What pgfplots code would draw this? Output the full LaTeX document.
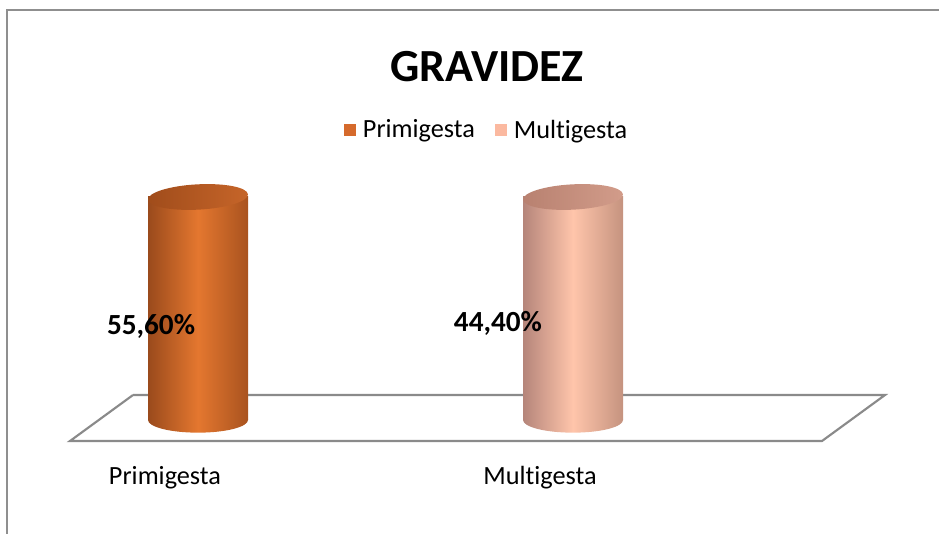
\documentclass[border=0pt]{standalone}
\usepackage{pgfplots}
\pgfplotsset{compat=1.18}
\usepackage{fontspec}
\setmainfont{Carlito}[Ligatures=NoCommon]
\usetikzlibrary{shapes.geometric}
\definecolor{orL}{HTML}{D56A2C}
\definecolor{orEdge}{HTML}{9A4A1C}
\definecolor{orMid}{HTML}{E4772F}
\definecolor{orEdgeR}{HTML}{A9531F}
\definecolor{orTopL}{HTML}{A04C1B}
\definecolor{orTopR}{HTML}{C66529}
\definecolor{pkL}{HTML}{FBB9A0}
\definecolor{pkEdge}{HTML}{B5857A}
\definecolor{pkMid}{HTML}{FFC5AB}
\definecolor{pkEdgeR}{HTML}{C5937F}
\definecolor{pkTopL}{HTML}{B88170}
\definecolor{pkTopR}{HTML}{D29C8A}
\definecolor{floorc}{HTML}{8A8A8A}
\definecolor{framec}{HTML}{8F8F8F}
\begin{document}
\begin{tikzpicture}
\begin{axis}[
  scale only axis, width=704.25pt, height=400.5pt,
  xmin=-0.528, xmax=1.976, ymin=-51.12, ymax=188.34,
  hide axis, clip=false,
  legend style={at={(rel axis cs:0.5186,0.7566)}, anchor=center, draw=none,
    font=\fontsize{19.7}{22}\selectfont, legend columns=2,
    /tikz/every even column/.append style={column sep=13pt}},
  legend image code/.code={\fill[#1, draw=none] (0pt,-4.5pt) rectangle (9pt,4.5pt); \path (12pt,0pt);},
]
\addlegendimage{fill=orL}
\addlegendentry{Primigesta}
\addlegendimage{fill=pkL}
\addlegendentry{Multigesta}
% floor
\addplot[draw=floorc, line width=1.6pt, forget plot] coordinates {(-0.1733,11.2) (1.832,11.2) (1.664,-9.42) (-0.3413,-9.42) (-0.1733,11.2)};
% bottom ellipses
\addplot[draw=none, mark=none, forget plot, nodes near coords={},
  every node near coord/.append style={ellipse, anchor=center, minimum width=75pt, minimum height=19pt, inner sep=0pt,
    left color=orEdge, right color=orEdgeR, middle color=orMid, draw=none}]
  coordinates {(0,0)};
\addplot[draw=none, mark=none, forget plot, nodes near coords={},
  every node near coord/.append style={ellipse, anchor=center, minimum width=75pt, minimum height=19pt, inner sep=0pt,
    left color=pkEdge, right color=pkEdgeR, middle color=pkMid, draw=none}]
  coordinates {(1,0)};
% bars
\addplot[ybar, bar width=75pt, bar shift=0pt, draw=none, forget plot,
  left color=orEdge, right color=orEdgeR, middle color=orMid,
  nodes near coords={},
  every node near coord/.append style={ellipse, anchor=center, minimum width=75pt, minimum height=19pt, inner sep=0pt,
    rotate=3, left color=orTopL, right color=orTopR, draw=none}]
  coordinates {(0,100)};
\addplot[ybar, bar width=75pt, bar shift=0pt, draw=none, forget plot,
  left color=pkEdge, right color=pkEdgeR, middle color=pkMid,
  nodes near coords={},
  every node near coord/.append style={ellipse, anchor=center, minimum width=75pt, minimum height=19pt, inner sep=0pt,
    rotate=3, left color=pkTopL, right color=pkTopR, draw=none}]
  coordinates {(1,100)};
% data labels
\addplot[draw=none, mark=none, forget plot, point meta=explicit symbolic, nodes near coords,
  every node near coord/.append style={anchor=center, font=\fontsize{21.9}{24}\selectfont\bfseries, text=black}]
  coordinates {(-0.1253,42.15) [55,60\%] (0.800,43.5) [44,40\%]};
% category labels
\addplot[draw=none, mark=none, forget plot, point meta=explicit symbolic, nodes near coords,
  every node near coord/.append style={anchor=center, font=\fontsize{19.7}{22}\selectfont, text=black}]
  coordinates {(-0.088,-26) [Primigesta] (0.912,-26) [Multigesta]};
\node[font=\fontsize{34.5}{38}\selectfont\bfseries] at (rel axis cs:0.5186,0.8745) {GRAVIDEZ};
\draw[framec, line width=1.5pt] (rel axis cs:0.00745,0) -- (rel axis cs:0.00745,0.9813) -- (rel axis cs:1,0.9813);
\end{axis}
\pgfresetboundingbox
\path[use as bounding box] (0,0) rectangle (704.25pt,400.5pt);
\end{tikzpicture}
\end{document}
